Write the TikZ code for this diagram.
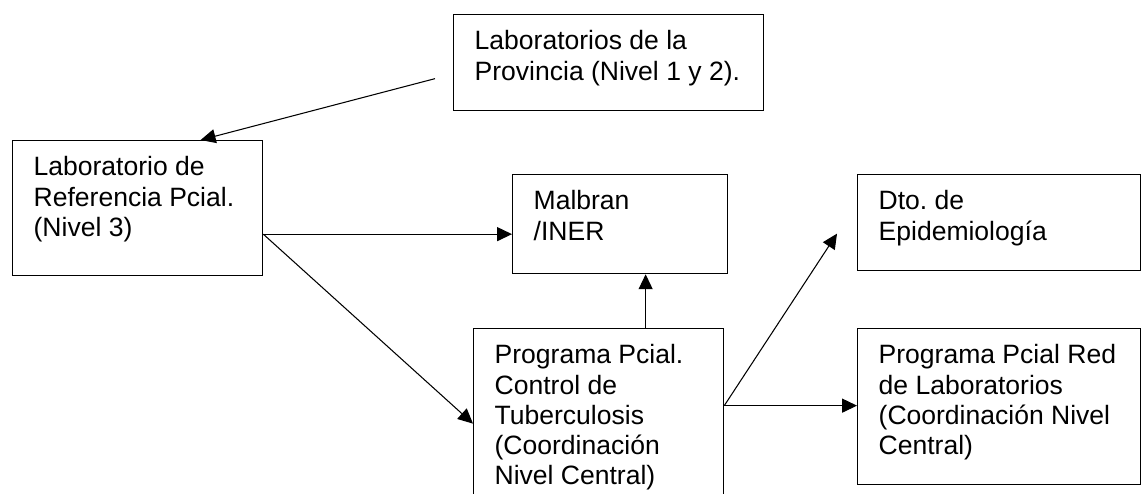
\documentclass[tikz,border=0pt]{standalone}
\usepackage{fontspec}
\setmainfont{Liberation Sans}
\usetikzlibrary{arrows.meta,calc}

\begin{document}
\begin{tikzpicture}[x=0.02cm, y=-0.02cm, line width=0.6pt, >={Triangle[length=8.5pt,width=8pt]}]
    \tikzstyle{box}=[draw, line width=0.75pt, anchor=north west, inner xsep=0.42cm, inner ysep=0.32cm, font=\fontsize{15.1pt}{17.2pt}\selectfont\frenchspacing]
    \tikzstyle{link}=[->]

    \useasboundingbox (0,0) rectangle (1148,493);
    \clip (0,0) rectangle (1148,493);

    % Draw the boxes
    \node[box] (prov) at (453,14) {\parbox[t][1.28cm][t]{5.36cm}{Laboratorios de la\\Provincia (Nivel 1 y 2).}};
    \node[box] (labref) at (12,140) {\parbox[t][2.06cm][t]{4.16cm}{Laboratorio de\\Referencia Pcial.\\(Nivel 3)}};
    \node[box] (malbran) at (512,174) {\parbox[t][1.34cm][t]{3.46cm}{Malbran\\/INER}};
    \node[box] (dto) at (857,174) {\parbox[t][1.28cm][t]{4.82cm}{Dto. de\\Epidemiología}};
    \node[box] (prog) at (473,328) {\parbox[t][3.0cm][t]{4.16cm}{Programa Pcial.\\Control de\\Tuberculosis\\(Coordinación\\Nivel Central)}};
    \node[box] (red) at (857,328) {\parbox[t][2.48cm][t]{4.82cm}{Programa Pcial Red\\de Laboratorios\\(Coordinación Nivel\\Central)}};

    % Points where the connectors leave the boxes
    \coordinate (p1) at ($(prov.west)+(-18,16)$);
    \coordinate (p2) at ($(labref.east)+(0,26)$);
    \coordinate (p3) at ($(prog.east)+(0,-14)$);
    \coordinate (p4) at ($(prog.north)+(47,0)$);

    % Connect the boxes
    \draw[link] (p1) -- ($(labref.north)+(63,0)$);
    \draw[link] (p2) -- (p2 -| malbran.west);
    \draw[link] (p2) -- ($(prog.west)+(0,4)$);
    \draw[link] (p4) -- (p4 |- malbran.south);
    \draw[link] (p3) -- ($(dto.west)+(-20,11)$);
    \draw[link] (p3) -- (p3 -| red.west);
\end{tikzpicture}
\end{document}
